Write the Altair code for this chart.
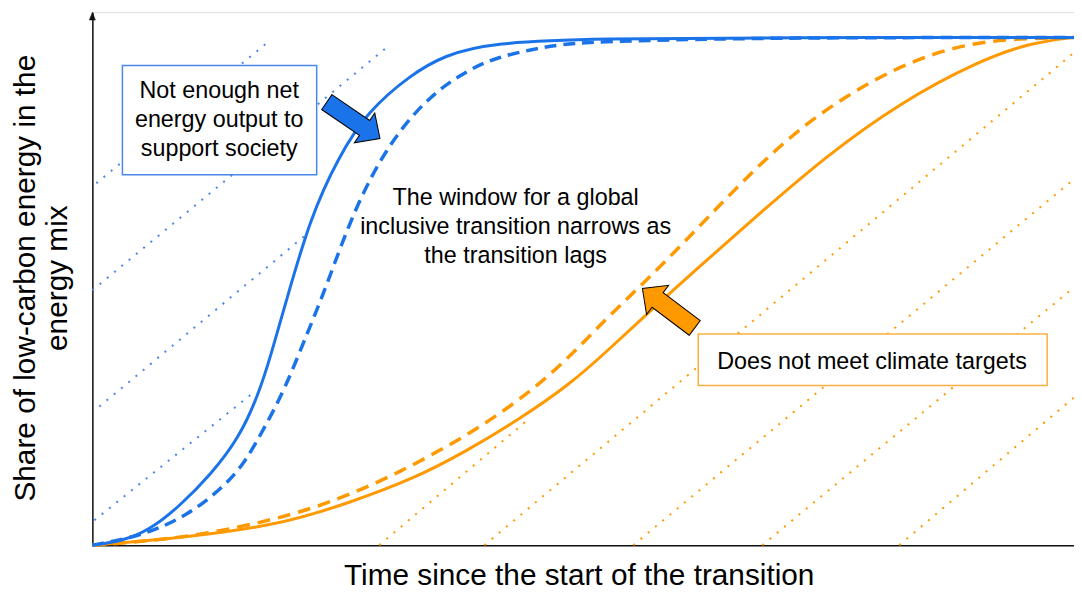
import altair as alt
import pandas as pd

FONT = "Liberation Sans"
BLUE = "#1a73e8"
BLUE_LIGHT = "#4a86e8"
ORANGE = "#ff9900"
ORANGE_LIGHT = "#f9b042"

# ---- curves (x = time since start, 0-100; y = share, 0-1) ----
blue_solid_x = [0, 3.03, 5.76, 8.80, 12.1, 14.9, 16.9, 18.2, 19.7, 22.2, 25.0, 28.0, 32.4, 35.8, 40.8, 51.3, 70, 100]
blue_solid_y = [0, 0.008, 0.029, 0.075, 0.140, 0.210, 0.295, 0.375, 0.478, 0.645, 0.762, 0.854, 0.926, 0.965, 0.990, 0.998, 1.0, 1.0]

blue_dash_x = [0, 5.06, 9.8, 13.5, 15.6, 17.6, 19.6, 21.9, 23.7, 26.7, 30.3, 34.4, 38.4, 41.2, 44.9, 48.6, 56.1, 70, 100]
blue_dash_y = [0, 0.018, 0.059, 0.117, 0.164, 0.234, 0.307, 0.418, 0.502, 0.664, 0.795, 0.887, 0.9375, 0.961, 0.977, 0.990, 0.994, 1.0, 1.0]

orange_solid_x = [0, 8.80, 18.91, 25.99, 32.76, 38.12, 43.48, 48.64, 52.58, 56.93, 61.38, 67.44, 74.92, 82.41, 89.99, 95.55, 100]
orange_solid_y = [0, 0.0137, 0.0391, 0.0820, 0.1309, 0.1855, 0.2480, 0.3164, 0.3848, 0.4629, 0.5410, 0.6445, 0.7695, 0.8730, 0.9512, 0.9902, 1.0]

orange_dash_x = [0, 9.81, 20.63, 27.00, 31.34, 35.89, 40.44, 44.89, 48.64, 52.38, 56.12, 59.96, 65.52, 71.18, 76.85, 82.41, 88.07, 93.73, 100]
orange_dash_y = [0, 0.0137, 0.0586, 0.1055, 0.1445, 0.1914, 0.2441, 0.3066, 0.3711, 0.4473, 0.5156, 0.5898, 0.7031, 0.8086, 0.8867, 0.9453, 0.9844, 0.9980, 1.0]

# ---- dotted guide lines (start / end) ----
blue_dot_x0 = [0.40, 0.0, 0.71, 0.20]
blue_dot_y0 = [0.713, 0.502, 0.273, 0.049]
blue_dot_x1 = [18.20, 30.33, 21.74, 16.18]
blue_dot_y1 = [0.996, 0.986, 0.611, 0.297]

orange_dot_x0 = [29.22, 39.94, 55.11, 68.25, 82.20]
orange_dot_y0 = [0, 0, 0, 0, 0]
orange_dot_x1 = [44.19, 99.80, 100, 100, 100]
orange_dot_y1 = [0.244, 0.967, 0.721, 0.508, 0.291]

# ---- annotation boxes ----
box_x1 = [3.06, 61.72]
box_x2 = [22.85, 97.27]
box_y1 = [0.7299, 0.3145]
box_y2 = [0.9447, 0.4160]
box_stroke = [BLUE_LIGHT, ORANGE_LIGHT]

# ---- texts (y = first line) ----
text_labels = [
    "Not enough net\nenergy output to\nsupport society",
    "The window for a global\ninclusive transition narrows as\nthe transition lags",
    "Does not meet climate targets",
]
text_x = [12.92, 43.12, 79.42]
text_y = [0.8936, 0.6836, 0.361]

# ---- block arrows ----
arrow_x = [26.59, 58.70]
arrow_y = [0.837, 0.4668]
arrow_angle = [34.4, 217]
arrow_size = [4225, 4356]
arrow_fill = [BLUE, ORANGE]

X_TITLE = "Time since the start of the transition"
Y_TITLE = ["Share of low-carbon energy in the", "energy mix"]

xscale = alt.Scale(domain=[0, 100], nice=False, zero=False)
yscale = alt.Scale(domain=[0, 1.05], nice=False, zero=False)

xaxis = alt.Axis(title=X_TITLE, labels=False, ticks=False, grid=False,
                 domainColor="#111111", domainWidth=1.5,
                 titleFont=FONT, titleFontSize=30, titleFontWeight="normal",
                 titleColor="black", titleX=490, titleY=40,
                 titleAlign="center", titleBaseline="alphabetic")
yaxis = alt.Axis(title=Y_TITLE, labels=False, ticks=False, grid=False,
                 domainColor="#111111", domainWidth=1.5,
                 titleFont=FONT, titleFontSize=30, titleFontWeight="normal",
                 titleColor="black", titleAngle=270, titleX=-58, titleY=267.5,
                 titleAlign="center", titleBaseline="alphabetic", titleLineHeight=32)


def X(field="x"):
    return alt.X(f"{field}:Q", scale=xscale, axis=xaxis)


def Y(field="y"):
    return alt.Y(f"{field}:Q", scale=yscale, axis=yaxis)


def dot_df(x0, y0, x1, y1):
    rows = []
    for i in range(len(x0)):
        rows.append({"id": i, "x": x0[i], "y": y0[i], "o": 0})
        rows.append({"id": i, "x": x1[i], "y": y1[i], "o": 1})
    return pd.DataFrame(rows)


blue_dots = alt.Chart(dot_df(blue_dot_x0, blue_dot_y0, blue_dot_x1, blue_dot_y1)).mark_line(
    color=BLUE_LIGHT, strokeWidth=2, strokeDash=[2, 7.5]
).encode(x=X(), y=Y(), detail="id:N", order="o:Q")

orange_dots = alt.Chart(dot_df(orange_dot_x0, orange_dot_y0, orange_dot_x1, orange_dot_y1)).mark_line(
    color=ORANGE, strokeWidth=2, strokeDash=[2, 7.5]
).encode(x=X(), y=Y(), detail="id:N", order="o:Q")


def curve(xs, ys, color, dash=None, width=3):
    df = pd.DataFrame({"x": xs, "y": ys})
    kw = dict(color=color, strokeWidth=width, interpolate="basis")
    if dash:
        kw["strokeDash"] = dash
    return alt.Chart(df).mark_line(**kw).encode(x=X(), y=Y(), order="x:Q")


c_orange_dash = curve(orange_dash_x, orange_dash_y, ORANGE, dash=[13, 8], width=3.5)
c_orange_solid = curve(orange_solid_x, orange_solid_y, ORANGE, width=3)
c_blue_dash = curve(blue_dash_x, blue_dash_y, BLUE, dash=[12, 7], width=3.5)
c_blue_solid = curve(blue_solid_x, blue_solid_y, BLUE, width=3)

boxes = alt.Chart(pd.DataFrame({"x": box_x1, "x2": box_x2, "y": box_y1, "y2": box_y2,
                                "c": box_stroke})).mark_rect(
    fill="white", strokeWidth=1.5
).encode(x=X(), x2="x2:Q", y=Y(), y2="y2:Q", stroke=alt.Stroke("c:N", scale=None))

texts = alt.Chart(pd.DataFrame({"x": text_x, "y": text_y, "t": text_labels})).mark_text(
    font=FONT, fontSize=23.5, lineHeight=29, align="center", baseline="middle",
    color="black", lineBreak="\n"
).encode(x=X(), y=Y(), text="t:N")

ARROW_PATH = "M-1,-0.28 L0.42,-0.28 L0.42,-0.56 L1,0 L0.42,0.56 L0.42,0.28 L-1,0.28 Z"
arrows = alt.Chart(pd.DataFrame({"x": arrow_x, "y": arrow_y, "a": arrow_angle,
                                 "s": arrow_size, "f": arrow_fill})).mark_point(
    shape=ARROW_PATH, filled=True, stroke="black", strokeWidth=1, opacity=1
).encode(x=X(), y=Y(), angle=alt.Angle("a:Q", scale=None),
         size=alt.Size("s:Q", scale=None), fill=alt.Fill("f:N", scale=None))

axis_head = alt.Chart(pd.DataFrame({"x": [0], "y": [1.05]})).mark_point(
    shape="M0,0 L0.38,1 L-0.38,1 Z", size=256, filled=True, fill="#111111",
    stroke="#111111", strokeWidth=0.5, opacity=1
).encode(x=X(), y=Y())

chart = alt.layer(
    blue_dots, orange_dots,
    c_orange_dash, c_orange_solid, c_blue_dash, c_blue_solid,
    boxes, texts, arrows, axis_head
).properties(
    width=989, height=537,
    autosize=alt.AutoSizeParams(type="none"),
    padding={"left": 85, "top": 2, "right": 0, "bottom": 45},
).configure_view(stroke=None).configure(background="white")

chart.save("out.html", embed_options={"renderer": "svg", "actions": False})
